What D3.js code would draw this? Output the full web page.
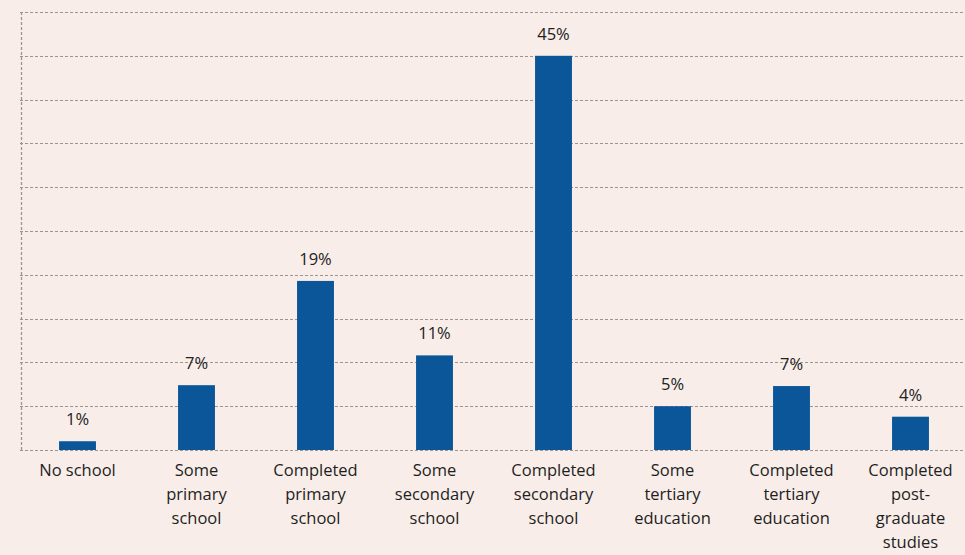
<!DOCTYPE html>
<html><head><meta charset="utf-8">
<script src="https://cdn.jsdelivr.net/npm/d3@7"></script>
<style>html,body{margin:0;padding:0;background:#f8ede8;}svg{display:block;}</style>
</head><body>
<svg id="c" width="965" height="555"></svg>
<script>
const categories = [
  ["No school"],
  ["Some", "primary", "school"],
  ["Completed", "primary", "school"],
  ["Some", "secondary", "school"],
  ["Completed", "secondary", "school"],
  ["Some", "tertiary", "education"],
  ["Completed", "tertiary", "education"],
  ["Completed", "post-", "graduate", "studies"]
];
const values = [1.0, 7.4, 19.3, 10.8, 45.0, 5.0, 7.3, 3.8];
const valueLabels = ["1%", "7%", "19%", "11%", "45%", "5%", "7%", "4%"];
const gridTicks = [0, 5, 10, 15, 20, 25, 30, 35, 40, 45, 50];

const svg = d3.select("#c");
const W = 965, H = 555;
svg.append("rect").attr("width", W).attr("height", H).attr("fill", "#f8ede8");

const x = d3.scaleBand().domain(d3.range(categories.length))
  .range([18, 970]).paddingInner(0.69).paddingOuter(0.345);
const y = d3.scaleLinear().domain([0, 50]).range([450, 12]);

const font = "'Open Sans', 'Noto Sans', sans-serif";

// gridlines
svg.append("g").selectAll("line").data(gridTicks).join("line")
  .attr("x1", 20).attr("x2", W)
  .attr("y1", d => Math.round(y(d)) + 0.5).attr("y2", d => Math.round(y(d)) + 0.5)
  .attr("stroke", "#9a9592").attr("stroke-width", 1).attr("stroke-dasharray", "3,2");
// left dashed axis
svg.append("line").attr("x1", 21.5).attr("x2", 21.5)
  .attr("y1", Math.round(y(50))).attr("y2", y(0))
  .attr("stroke", "#9a9592").attr("stroke-width", 1.3).attr("stroke-dasharray", "3,2");

// bars
svg.append("g").selectAll("rect").data(values).join("rect")
  .attr("x", (d, i) => x(i)).attr("width", x.bandwidth())
  .attr("y", d => y(d)).attr("height", d => y(0) - y(d))
  .attr("fill", "#0a5699");

// value labels
svg.append("g").selectAll("text").data(values).join("text")
  .attr("x", (d, i) => x(i) + x.bandwidth() / 2)
  .attr("y", d => y(d) - 16)
  .attr("text-anchor", "middle")
  .attr("font-family", font).attr("font-size", 16.5).attr("fill", "#222")
  .text((d, i) => valueLabels[i]);

// category labels
const cl = svg.append("g").selectAll("text").data(categories).join("text")
  .attr("x", (d, i) => x(i) + x.bandwidth() / 2)
  .attr("y", 476)
  .attr("text-anchor", "middle")
  .attr("font-family", font).attr("font-size", 16.5).attr("fill", "#1e1e1e");
cl.selectAll("tspan").data(d => d).join("tspan")
  .attr("x", function() { return d3.select(this.parentNode).attr("x"); })
  .attr("dy", (d, j) => j === 0 ? 0 : 24)
  .text(d => d);
</script>
</body></html>
